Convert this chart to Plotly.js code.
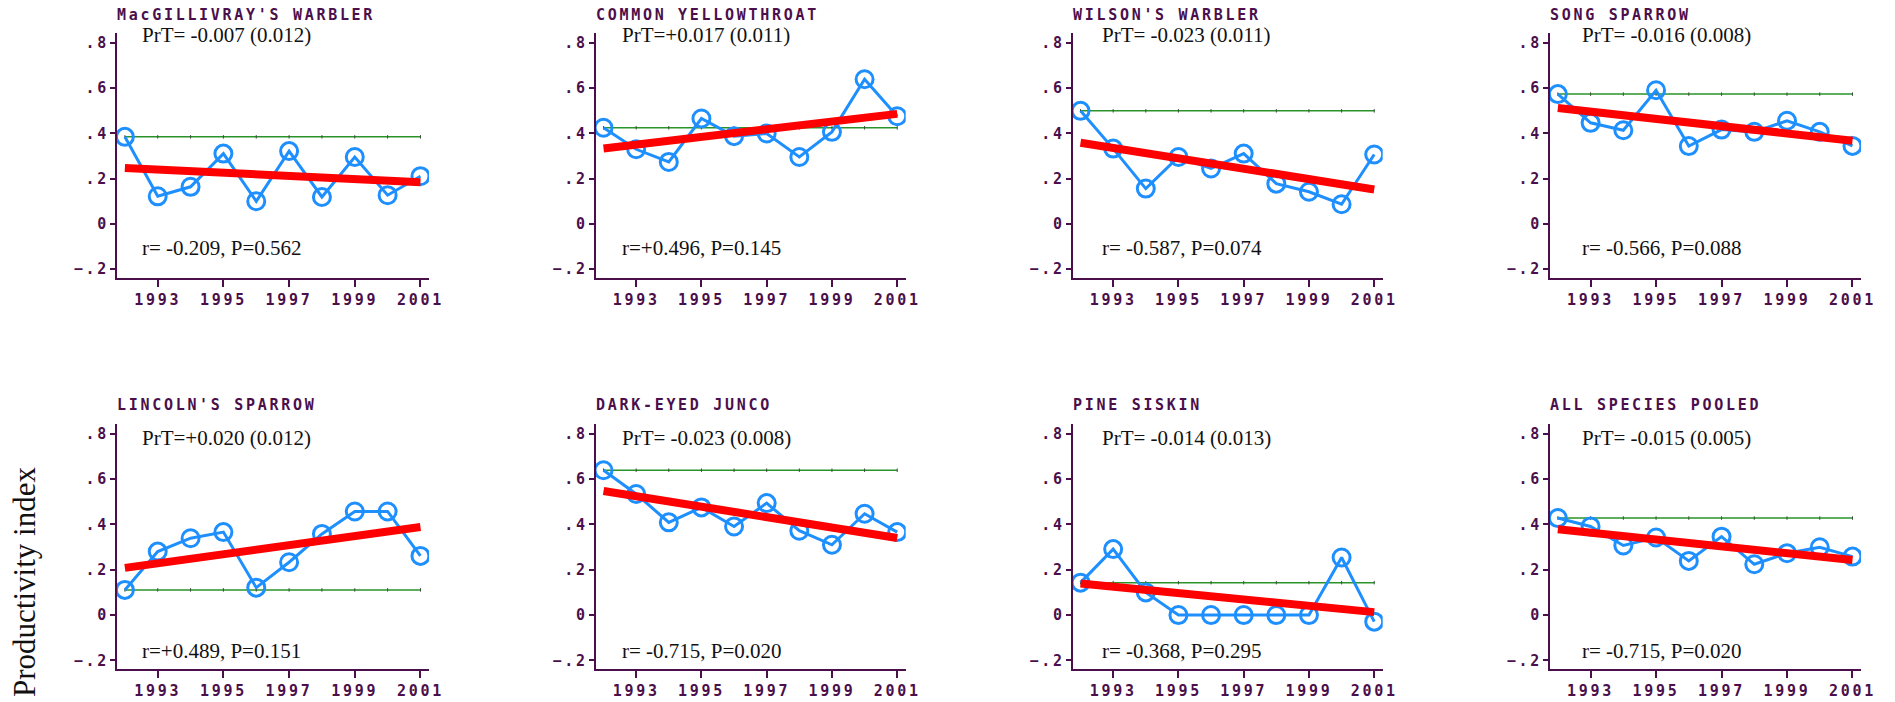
<!DOCTYPE html>
<html>
<head>
<meta charset="utf-8">
<script src="https://cdn.plot.ly/plotly-3.0.1.min.js"></script>
<style>
  html, body { margin: 0; padding: 0; background: #ffffff; }
  #chart { width: 1895px; height: 702px; }
  /* blocky plotter lettering for panel titles and tick labels */
  text[style*="Sans Mono"] { letter-spacing: 2.7px; }
</style>
</head>
<body>
<div id="chart"></div>
<script>
// ---- data ----
const years = [1992, 1993, 1994, 1995, 1996, 1997, 1998, 1999, 2000, 2001];
const yearTickVals = [1993, 1995, 1997, 1999, 2001];
const yearTickText = ["1993", "1995", "1997", "1999", "2001"];
const indexTickVals = [-0.2, 0, 0.2, 0.4, 0.6, 0.8];
const indexTickText = ["\u2212.2", "0", ".2", ".4", ".6", ".8"];

const speciesNames = [
  "MacGILLIVRAY'S WARBLER", "COMMON YELLOWTHROAT", "WILSON'S WARBLER", "SONG SPARROW",
  "LINCOLN'S SPARROW", "DARK-EYED JUNCO", "PINE SISKIN", "ALL SPECIES POOLED"
];

const macgillivraysWarbler = [0.385, 0.122, 0.164, 0.311, 0.100, 0.322, 0.119, 0.296, 0.127, 0.211];
const commonYellowthroat   = [0.425, 0.330, 0.274, 0.466, 0.388, 0.400, 0.296, 0.407, 0.640, 0.476];
const wilsonsWarbler       = [0.500, 0.333, 0.156, 0.296, 0.245, 0.311, 0.178, 0.142, 0.087, 0.307];
const songSparrow          = [0.574, 0.447, 0.414, 0.591, 0.344, 0.417, 0.407, 0.456, 0.407, 0.345];
const lincolnsSparrow      = [0.111, 0.280, 0.339, 0.366, 0.121, 0.233, 0.358, 0.457, 0.457, 0.261];
const darkEyedJunco        = [0.639, 0.534, 0.409, 0.475, 0.391, 0.494, 0.372, 0.310, 0.447, 0.366];
const pineSiskin           = [0.143, 0.291, 0.100, 0.000, 0.000, 0.000, 0.000, 0.000, 0.254, -0.029];
const allSpeciesPooled     = [0.428, 0.391, 0.307, 0.342, 0.239, 0.346, 0.224, 0.273, 0.299, 0.258];

// trend per year (PrT) with its standard error, and correlation with year
const prtSlope = [-0.007, 0.017, -0.023, -0.016, 0.020, -0.023, -0.014, -0.015];
const prtSE    = [0.012, 0.011, 0.011, 0.008, 0.012, 0.008, 0.013, 0.005];
const rValues  = [-0.209, 0.496, -0.587, -0.566, 0.489, -0.715, -0.368, -0.715];
const pValues  = [0.562, 0.145, 0.074, 0.088, 0.151, 0.020, 0.295, 0.020];

const seriesList = [macgillivraysWarbler, commonYellowthroat, wilsonsWarbler, songSparrow,
                    lincolnsSparrow, darkEyedJunco, pineSiskin, allSpeciesPooled];

// ---- layout geometry (pixels) ----
const W = 1895, H = 702;
const colLeft  = [117, 595.7, 1072.7, 1550];
const colRight = [429, 905.7, 1382.7, 1861];
const textLeft = [140, 620, 1100, 1580];
const rowTop    = [33.3, 424];
const rowBottom = [277.7, 669];
const titleY = [15.3, 405];
const prtY   = [34.8, 438];
const rY     = [248, 650.6];

const INK = "#4b0f4b";
const BLUE = "#1e8fff";
const RED = "#ff0000";
const GREEN = "#2a932a";
const plotterFont = { family: '"DejaVu Sans Mono", monospace', size: 15, color: INK, weight: "bold" };
const serifFont = { family: '"Liberation Serif", "Times New Roman", serif', size: 21, color: "#111111" };

function signed(v, digits) {
  return (v < 0 ? " -" : "+") + Math.abs(v).toFixed(digits);
}

const traces = [];
const layout = {
  width: W, height: H,
  margin: { l: 0, r: 0, t: 0, b: 0 },
  paper_bgcolor: "#ffffff",
  plot_bgcolor: "#ffffff",
  showlegend: false,
  annotations: []
};

seriesList.forEach((vals, i) => {
  const row = Math.floor(i / 4), col = i % 4;
  const sfx = i === 0 ? "" : String(i + 1);
  const xa = "x" + sfx, ya = "y" + sfx;

  // first-year reference level
  traces.push({
    x: years, y: years.map(() => vals[0]),
    xaxis: xa, yaxis: ya, type: "scatter", mode: "lines+markers",
    line: { color: GREEN, width: 1.5 },
    marker: { symbol: "line-ns-open", size: 2.5, color: "#3a4f3a", line: { width: 1, color: "#3a4f3a" } },
    hoverinfo: "skip"
  });

  // annual productivity index
  traces.push({
    x: years, y: vals,
    xaxis: xa, yaxis: ya, type: "scatter", mode: "lines+markers",
    line: { color: BLUE, width: 3 },
    marker: { symbol: "circle-open", size: 17, color: BLUE, line: { width: 3, color: BLUE } }
  });

  // linear trend through the mean with the stated slope
  const meanYear = years.reduce((a, b) => a + b, 0) / years.length;
  const meanVal = vals.reduce((a, b) => a + b, 0) / vals.length;
  const ends = [years[0], years[years.length - 1]];
  traces.push({
    x: ends, y: ends.map(yr => meanVal + prtSlope[i] * (yr - meanYear)),
    xaxis: xa, yaxis: ya, type: "scatter", mode: "lines",
    line: { color: RED, width: 8 },
    hoverinfo: "skip"
  });

  const axisCommon = {
    showgrid: false, zeroline: false, showline: true,
    linecolor: INK, linewidth: 2,
    ticks: "outside", tickcolor: INK, tickwidth: 2,
    tickfont: plotterFont, fixedrange: true
  };
  layout["xaxis" + sfx] = Object.assign({}, axisCommon, {
    anchor: ya,
    domain: [colLeft[col] / W, colRight[col] / W],
    range: [1991.76, 2001.26],
    tickmode: "array", tickvals: yearTickVals, ticktext: yearTickText,
    ticklen: 7, ticklabelstandoff: 0
  });
  layout["yaxis" + sfx] = Object.assign({}, axisCommon, {
    anchor: xa,
    domain: [1 - rowBottom[row] / H, 1 - rowTop[row] / H],
    range: [-0.238, 0.843],
    tickmode: "array", tickvals: indexTickVals, ticktext: indexTickText,
    ticklen: 5, ticklabelstandoff: -2
  });

  layout.annotations.push({
    text: speciesNames[i], xref: "paper", yref: "paper",
    x: (colLeft[col] - 2) / W, y: 1 - titleY[row] / H,
    xanchor: "left", yanchor: "middle", showarrow: false,
    font: plotterFont
  });
  layout.annotations.push({
    text: "PrT=" + signed(prtSlope[i], 3) + " (" + prtSE[i].toFixed(3) + ")",
    xref: "paper", yref: "paper",
    x: textLeft[col] / W, y: 1 - prtY[row] / H,
    xanchor: "left", yanchor: "middle", showarrow: false,
    font: serifFont
  });
  layout.annotations.push({
    text: "r=" + signed(rValues[i], 3) + ", P=" + pValues[i].toFixed(3),
    xref: "paper", yref: "paper",
    x: textLeft[col] / W, y: 1 - rY[row] / H,
    xanchor: "left", yanchor: "middle", showarrow: false,
    font: serifFont
  });
});

layout.annotations.push({
  text: "Productivity index", xref: "paper", yref: "paper",
  x: 24 / W, y: 1 - 582 / H, xanchor: "center", yanchor: "middle",
  textangle: -90, showarrow: false,
  font: { family: '"Liberation Serif", "Times New Roman", serif', size: 31, color: "#111111" }
});

Plotly.newPlot("chart", traces, layout, { displayModeBar: false, staticPlot: true });
</script>
</body>
</html>
